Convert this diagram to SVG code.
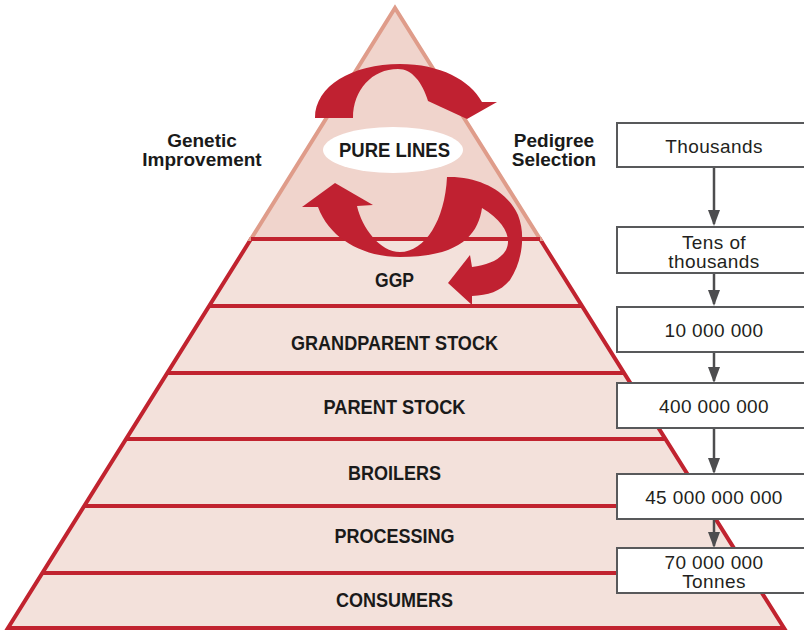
<svg xmlns="http://www.w3.org/2000/svg" width="804" height="632" viewBox="0 0 804 632">
<defs>
<style>
.lvl{font-family:"Liberation Sans",Arial,sans-serif;font-weight:bold;font-size:19.5px;fill:#1a1a1a;text-anchor:middle}
.side{font-family:"Liberation Sans",Arial,sans-serif;font-weight:bold;font-size:19px;fill:#1a1a1a;text-anchor:middle}
.box rect{fill:#ffffff;stroke:#58595b;stroke-width:2}
.box text{font-family:"Liberation Sans",Arial,sans-serif;font-size:19px;fill:#231f20;text-anchor:middle;letter-spacing:0.4px}
.sep{stroke:#c1232f;stroke-width:4}
.conn{stroke:#4d4d4f;stroke-width:2.5;fill:none;marker-end:url(#ah)}
.red{fill:#c02131}
</style>
<marker id="ah" viewBox="0 0 16 12" refX="14" refY="6" markerWidth="16" markerHeight="12" markerUnits="userSpaceOnUse" orient="auto">
<path d="M0,0 L16,6 L0,12 Z" fill="#4d4d4f"/>
</marker>
</defs>
<rect width="804" height="632" fill="#ffffff"/>

<g id="pyramid">
<polygon points="251,239 540,239 784,628 8,628" fill="#f3e1db" stroke="#c1232f" stroke-width="4" stroke-linejoin="miter"/>
<polygon points="395,8 540,239 251,239" fill="#f0d4cc" stroke="#df9c8a" stroke-width="4" stroke-linejoin="miter"/>
<line class="sep" x1="251" y1="239" x2="540" y2="239"/>
<line class="sep" x1="209" y1="306" x2="582" y2="306"/>
<line class="sep" x1="167" y1="373" x2="624" y2="373"/>
<line class="sep" x1="126" y1="439" x2="665" y2="439"/>
<line class="sep" x1="84" y1="506" x2="707" y2="506"/>
<line class="sep" x1="42" y1="573" x2="749" y2="573"/>
</g>

<g id="level-ggp"><text class="lvl" x="394.5" y="287" textLength="39" lengthAdjust="spacingAndGlyphs">GGP</text></g>
<g id="level-grandparent"><text class="lvl" x="394.5" y="350" textLength="207" lengthAdjust="spacingAndGlyphs">GRANDPARENT STOCK</text></g>
<g id="level-parent"><text class="lvl" x="394.5" y="414" textLength="142" lengthAdjust="spacingAndGlyphs">PARENT STOCK</text></g>
<g id="level-broilers"><text class="lvl" x="394.5" y="480" textLength="93" lengthAdjust="spacingAndGlyphs">BROILERS</text></g>
<g id="level-processing"><text class="lvl" x="394.5" y="543" textLength="120" lengthAdjust="spacingAndGlyphs">PROCESSING</text></g>
<g id="level-consumers"><text class="lvl" x="394.5" y="607" textLength="117" lengthAdjust="spacingAndGlyphs">CONSUMERS</text></g>

<g id="cycle-arrows">
<path class="red" d="M315,118 C315,86 352,64 400,64 C440,64 470,80 482,102 L497,102 L467,119 L428,101 C422,82 412,69 398,69 C372,69 353,90 353,118 Z"/>
<path class="red" d="M335,183 L373,205 L357,206 C362,228 380,252 400,252 C425,252 445,220 447,177 C480,176 508,192 518,215 C526,235 522,262 510,280 C500,292 488,295 472,296 L472,305 L448,283 L470,255 L472,267 C488,265 500,260 506,250 C512,238 505,222 482,208 C478,235 460,257 400,257 C365,257 330,240 318,207 L302,207 Z"/>
</g>

<g id="pure-lines">
<ellipse cx="393" cy="150" rx="70" ry="23" fill="#ffffff"/>
<text class="lvl" x="394.5" y="157" textLength="111" lengthAdjust="spacingAndGlyphs">PURE LINES</text>
</g>

<g id="genetic-improvement">
<text class="side" x="202" y="147">Genetic</text>
<text class="side" x="202" y="166">Improvement</text>
</g>
<g id="pedigree-selection">
<text class="side" x="554" y="147">Pedigree</text>
<text class="side" x="554" y="166">Selection</text>
</g>

<g id="connectors">
<path class="conn" d="M714,167 L714,224"/>
<path class="conn" d="M714,273 L714,304"/>
<path class="conn" d="M714,352 L714,381"/>
<path class="conn" d="M714,428 L714,472"/>
<path class="conn" d="M714,519 L714,546"/>
</g>

<g id="box-thousands" class="box"><rect x="617" y="123" width="200" height="44"/><text x="714" y="153">Thousands</text></g>
<g id="box-tens" class="box"><rect x="617" y="227" width="200" height="46"/><text x="714" y="249">Tens of</text><text x="714" y="268">thousands</text></g>
<g id="box-10m" class="box"><rect x="617" y="307" width="200" height="45"/><text x="714" y="337">10 000 000</text></g>
<g id="box-400m" class="box"><rect x="617" y="383" width="200" height="45"/><text x="714" y="413">400 000 000</text></g>
<g id="box-45b" class="box"><rect x="617" y="474" width="200" height="45"/><text x="714" y="504">45 000 000 000</text></g>
<g id="box-70m" class="box"><rect x="617" y="548" width="200" height="45"/><text x="714" y="569">70 000 000</text><text x="714" y="588">Tonnes</text></g>
</svg>
